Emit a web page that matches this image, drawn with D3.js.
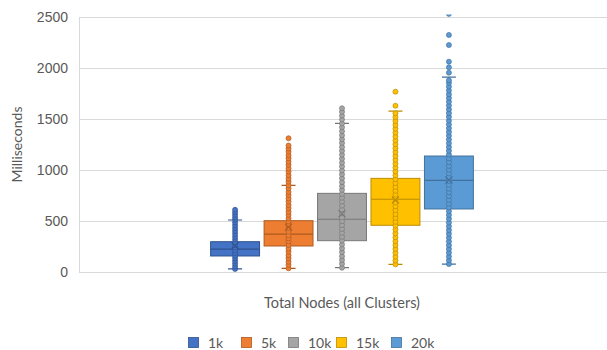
<!DOCTYPE html>
<html>
<head>
<meta charset="utf-8">
<script src="https://cdn.jsdelivr.net/npm/d3@7"></script>
<style>
  html, body { margin: 0; padding: 0; background: #fff; }
  svg { display: block; font-family: Lato, "Open Sans", sans-serif; }
</style>
</head>
<body>
<svg id="chart" width="607" height="350"></svg>
<script>
// Series (cluster sizes) and their colours
const seriesNames = ["1k", "5k", "10k", "15k", "20k"];
const seriesColors = ["#4472C4", "#ED7D31", "#A5A5A5", "#FFC000", "#5B9BD5"];
const seriesStroke = ["#2F528F", "#AE5A21", "#787878", "#BC8C00", "#41719C"];

// Box statistics per series (milliseconds)
const q1 = [157, 255, 307, 458, 618];
const median = [225, 372, 517, 713, 899];
const q3 = [297, 503, 771, 918, 1137];
const whiskerLow = [30, 36, 42, 75, 78];
const whiskerHigh = [510, 850, 1458, 1578, 1910];
const mean = [258, 440, 572, 706, 902];

// Individual measurements shown as points
const points1k = [30, 55, 82, 108, 135, 160, 186, 212, 238, 262, 290, 318, 346, 374, 402, 430, 458, 486, 512, 535, 560, 585, 610];
const points5k = [36, 70, 100, 135, 165, 200, 230, 265, 300, 330, 360, 395, 430, 460, 495, 525, 560, 590, 625, 655, 690, 720, 755, 785, 820, 850, 885, 915, 950, 985, 1015, 1050, 1080, 1115, 1145, 1180, 1210, 1240, 1311];
const points10k = [42, 80, 118, 155, 195, 232, 270, 308, 345, 385, 422, 460, 498, 535, 575, 612, 650, 690, 728, 765, 805, 842, 880, 920, 958, 995, 1035, 1072, 1110, 1150, 1188, 1225, 1265, 1302, 1340, 1380, 1418, 1455, 1495, 1532, 1570, 1605];
const points15k = [75, 112, 150, 188, 226, 264, 302, 340, 378, 416, 454, 492, 530, 568, 606, 644, 682, 720, 758, 796, 834, 872, 910, 948, 986, 1024, 1062, 1100, 1138, 1176, 1214, 1252, 1290, 1328, 1366, 1404, 1442, 1480, 1518, 1556, 1630, 1768];
const points20k = [78, 115, 152, 189, 226, 263, 300, 337, 374, 411, 448, 485, 522, 559, 596, 633, 670, 707, 744, 781, 818, 855, 892, 929, 966, 1003, 1040, 1077, 1114, 1151, 1188, 1225, 1262, 1299, 1336, 1373, 1410, 1447, 1484, 1521, 1558, 1595, 1632, 1669, 1706, 1743, 1780, 1817, 1854, 1880, 1954, 2007, 2062, 2225, 2324, 2530];
const allPoints = [points1k, points5k, points10k, points15k, points20k];

const yTicks = [0, 500, 1000, 1500, 2000, 2500];
const categoryLabel = "Total Nodes (all Clusters)";

const svg = d3.select("#chart");
const plot = { left: 79, right: 605, top: 17, bottom: 272 };

const y = d3.scaleLinear().domain([0, 2500]).range([plot.bottom, plot.top]);

// One category band, split into one band per series
const xCat = d3.scaleBand().domain([categoryLabel]).range([plot.left, plot.right])
  .paddingInner(0).paddingOuter(0.485);
const xSeries = d3.scaleBand().domain(seriesNames)
  .range([xCat(categoryLabel), xCat(categoryLabel) + xCat.bandwidth()])
  .paddingInner(0.085).paddingOuter(0.04);

// Gridlines and labels
const yAxis = d3.axisLeft(y).tickValues(yTicks).tickFormat(d3.format("d"))
  .tickSize(-(plot.right + 2 - plot.left)).tickPadding(11);
const gAxis = svg.append("g").attr("transform", `translate(${plot.left},0)`).call(yAxis);
gAxis.select(".domain").remove();
gAxis.selectAll(".tick line").attr("stroke", "#d9d9d9").attr("stroke-width", 1);
gAxis.selectAll(".tick text").attr("fill", "#595959").style("font-size", "14px");

svg.append("line")
  .attr("x1", plot.left + 0.5).attr("x2", plot.left + 0.5)
  .attr("y1", plot.top).attr("y2", plot.bottom)
  .attr("stroke", "#d9d9d9");

svg.append("text")
  .attr("transform", `translate(22,${(plot.top + plot.bottom) / 2}) rotate(-90)`)
  .attr("text-anchor", "middle")
  .attr("fill", "#595959").style("font-size", "14px")
  .text("Milliseconds");

svg.append("text")
  .attr("x", xCat(categoryLabel) + xCat.bandwidth() / 2).attr("y", 308)
  .attr("text-anchor", "middle")
  .attr("fill", "#595959").style("font-size", "14.5px")
  .text(categoryLabel);

svg.append("defs").append("clipPath").attr("id", "plotClip")
  .append("rect").attr("x", 0).attr("y", plot.top - 2.5).attr("width", 607).attr("height", plot.bottom - plot.top + 10);

const gBoxes = svg.append("g").attr("clip-path", "url(#plotClip)");

seriesNames.forEach((name, i) => {
  const x0 = xSeries(name);
  const w = xSeries.bandwidth();
  const cx = x0 + w / 2;
  const g = gBoxes.append("g");

  // box
  g.append("rect")
    .attr("x", x0).attr("width", w)
    .attr("y", y(q3[i])).attr("height", y(q1[i]) - y(q3[i]))
    .attr("fill", seriesColors[i]).attr("stroke", seriesStroke[i]).attr("stroke-width", 1);

  // median
  g.append("line")
    .attr("x1", x0).attr("x2", x0 + w)
    .attr("y1", y(median[i])).attr("y2", y(median[i]))
    .attr("stroke", seriesStroke[i]).attr("stroke-width", 1.2);

  // whiskers
  g.append("line")
    .attr("x1", cx).attr("x2", cx)
    .attr("y1", y(whiskerHigh[i])).attr("y2", y(q3[i]))
    .attr("stroke", seriesStroke[i]);
  g.append("line")
    .attr("x1", cx).attr("x2", cx)
    .attr("y1", y(q1[i])).attr("y2", y(whiskerLow[i]))
    .attr("stroke", seriesStroke[i]);
  [whiskerHigh[i], whiskerLow[i]].forEach(v => {
    g.append("line")
      .attr("x1", cx - 7).attr("x2", cx + 7)
      .attr("y1", y(v)).attr("y2", y(v))
      .attr("stroke", seriesStroke[i]).attr("stroke-width", 1.2);
  });

  // points
  g.selectAll("circle").data(allPoints[i]).join("circle")
    .attr("cx", cx).attr("cy", d => y(d)).attr("r", 2.5)
    .attr("fill", seriesColors[i]).attr("stroke", seriesStroke[i]).attr("stroke-width", 0.7);

  // mean marker (x)
  const my = y(mean[i]);
  g.append("path")
    .attr("d", `M${cx - 3.5},${my - 3.5}L${cx + 3.5},${my + 3.5}M${cx - 3.5},${my + 3.5}L${cx + 3.5},${my - 3.5}`)
    .attr("stroke", seriesStroke[i]).attr("stroke-width", 1.1).attr("fill", "none");
});

// Legend
const legendX = [188, 241, 288, 336, 391];
const legend = svg.append("g");
seriesNames.forEach((name, i) => {
  const lg = legend.append("g").attr("transform", `translate(${legendX[i]},337)`);
  lg.append("rect").attr("x", 0.5).attr("y", 0.5).attr("width", 10).attr("height", 10)
    .attr("fill", seriesColors[i]).attr("stroke", seriesStroke[i]).attr("stroke-width", 0.8);
  lg.append("text").attr("x", 20).attr("y", 10.5)
    .attr("fill", "#595959").style("font-size", "14px").text(name);
});
</script>
</body>
</html>
